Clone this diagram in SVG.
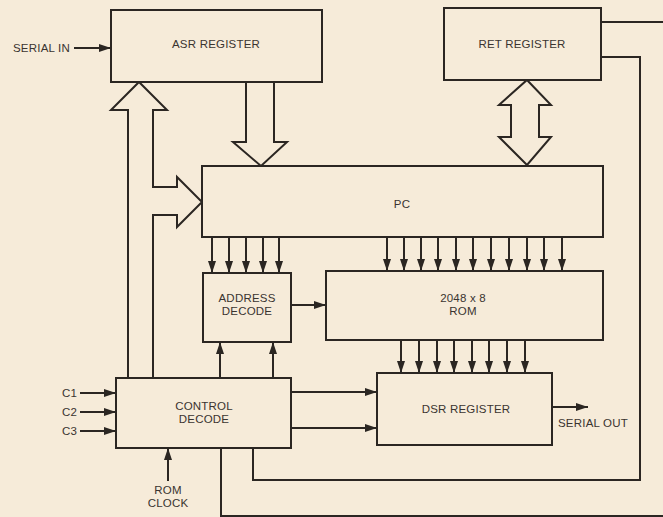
<svg xmlns="http://www.w3.org/2000/svg" width="663" height="517" viewBox="0 0 663 517">
<defs>
<marker id="ah" viewBox="0 0 12 8" refX="12" refY="4" markerWidth="12" markerHeight="8" markerUnits="userSpaceOnUse" orient="auto">
<path d="M0,0 L12,4 L0,8 Z" fill="#2b2622"/>
</marker>
<style>
.box{fill:#f6ebd9;stroke:#2b2622;stroke-width:2}
.ln{fill:none;stroke:#2b2622;stroke-width:2}
.arr{fill:none;stroke:#2b2622;stroke-width:2;marker-end:url(#ah)}
.hol{fill:#f6ebd9;stroke:#2b2622;stroke-width:2;stroke-linejoin:miter}
.t{font-family:"Liberation Sans",Arial,sans-serif;font-size:11.5px;letter-spacing:0.2px;fill:#3a3430;text-anchor:middle}
.ts{font-family:"Liberation Sans",Arial,sans-serif;font-size:11.5px;letter-spacing:0.2px;fill:#3a3430;text-anchor:start}
</style>
</defs>
<rect width="663" height="517" fill="#f6ebd9"/>

<g id="connectors">
<!-- serial in -->
<line class="arr" x1="74" y1="48" x2="111" y2="48"/>
<!-- ASR to PC hollow arrow -->
<path class="hol" d="M246,82 V142 H233 L261,166 L287,142 H274 V82"/>
<!-- RET <-> PC hollow double arrow -->
<path class="hol" d="M527,80 L551,105 H539 V137 H551 L527,165 L499,137 H511 V105 H499 Z"/>
<!-- control decode to ASR and PC hollow arrow -->
<path class="hol" d="M128,378 V110 H111 L139,82 L167,110 H153 V187 H177 V177 L202,202 L177,227 V215 H153 V378"/>
<!-- PC to address decode -->
<line class="arr" x1="212" y1="237" x2="212" y2="273"/>
<line class="arr" x1="229" y1="237" x2="229" y2="273"/>
<line class="arr" x1="246" y1="237" x2="246" y2="273"/>
<line class="arr" x1="263" y1="237" x2="263" y2="273"/>
<line class="arr" x1="279" y1="237" x2="279" y2="273"/>
<!-- PC to ROM -->
<line class="arr" x1="387" y1="237" x2="387" y2="271"/>
<line class="arr" x1="404" y1="237" x2="404" y2="271"/>
<line class="arr" x1="421" y1="237" x2="421" y2="271"/>
<line class="arr" x1="438" y1="237" x2="438" y2="271"/>
<line class="arr" x1="456" y1="237" x2="456" y2="271"/>
<line class="arr" x1="473" y1="237" x2="473" y2="271"/>
<line class="arr" x1="491" y1="237" x2="491" y2="271"/>
<line class="arr" x1="509" y1="237" x2="509" y2="271"/>
<line class="arr" x1="527" y1="237" x2="527" y2="271"/>
<line class="arr" x1="544" y1="237" x2="544" y2="271"/>
<line class="arr" x1="562" y1="237" x2="562" y2="271"/>
<!-- address decode to ROM -->
<line class="arr" x1="291" y1="305" x2="326" y2="305"/>
<!-- ROM to DSR -->
<line class="arr" x1="401" y1="340" x2="401" y2="373"/>
<line class="arr" x1="419" y1="340" x2="419" y2="373"/>
<line class="arr" x1="437" y1="340" x2="437" y2="373"/>
<line class="arr" x1="454" y1="340" x2="454" y2="373"/>
<line class="arr" x1="472" y1="340" x2="472" y2="373"/>
<line class="arr" x1="489" y1="340" x2="489" y2="373"/>
<line class="arr" x1="507" y1="340" x2="507" y2="373"/>
<line class="arr" x1="525" y1="340" x2="525" y2="373"/>
<!-- control decode to address decode -->
<line class="arr" x1="220" y1="378" x2="220" y2="342"/>
<line class="arr" x1="273" y1="378" x2="273" y2="342"/>
<!-- control decode to DSR -->
<line class="arr" x1="291" y1="392" x2="377" y2="392"/>
<line class="arr" x1="291" y1="428" x2="377" y2="428"/>
<!-- C inputs -->
<line class="arr" x1="80" y1="393" x2="116" y2="393"/>
<line class="arr" x1="80" y1="412" x2="116" y2="412"/>
<line class="arr" x1="80" y1="431" x2="116" y2="431"/>
<!-- ROM clock -->
<line class="arr" x1="168" y1="481" x2="168" y2="448"/>
<!-- serial out -->
<line class="arr" x1="552" y1="407" x2="588" y2="407"/>
<!-- RET feedback lines -->
<polyline class="ln" points="601,22 663,22"/>
<polyline class="ln" points="601,57 640,57 640,480 253,480 253,448"/>
<polyline class="ln" points="221,448 221,516 663,516"/>
</g>

<g id="node-asr">
<rect class="box" x="111" y="10" width="211" height="72"/>
<text class="t" x="216" y="48">ASR REGISTER</text>
</g>
<g id="node-ret">
<rect class="box" x="444" y="8" width="157" height="72"/>
<text class="t" x="522" y="48">RET REGISTER</text>
</g>
<g id="node-pc">
<rect class="box" x="202" y="166" width="401" height="71"/>
<text class="t" x="402" y="208">PC</text>
</g>
<g id="node-addr">
<rect class="box" x="203" y="273" width="88" height="69"/>
<text class="t" x="247" y="302">ADDRESS</text>
<text class="t" x="247" y="315">DECODE</text>
</g>
<g id="node-rom">
<rect class="box" x="326" y="271" width="277" height="69"/>
<text class="t" x="463" y="302">2048 x 8</text>
<text class="t" x="463" y="315">ROM</text>
</g>
<g id="node-ctrl">
<rect class="box" x="116" y="378" width="175" height="70"/>
<text class="t" x="204" y="410">CONTROL</text>
<text class="t" x="204" y="423">DECODE</text>
</g>
<g id="node-dsr">
<rect class="box" x="377" y="373" width="175" height="72"/>
<text class="t" x="466" y="413">DSR REGISTER</text>
</g>
<g id="labels">
<text class="ts" x="13" y="52">SERIAL IN</text>
<text class="ts" x="558" y="427">SERIAL OUT</text>
<text class="ts" x="62" y="397">C1</text>
<text class="ts" x="62" y="416">C2</text>
<text class="ts" x="62" y="435">C3</text>
<text class="t" x="168" y="494">ROM</text>
<text class="t" x="168" y="507">CLOCK</text>
</g>
</svg>
